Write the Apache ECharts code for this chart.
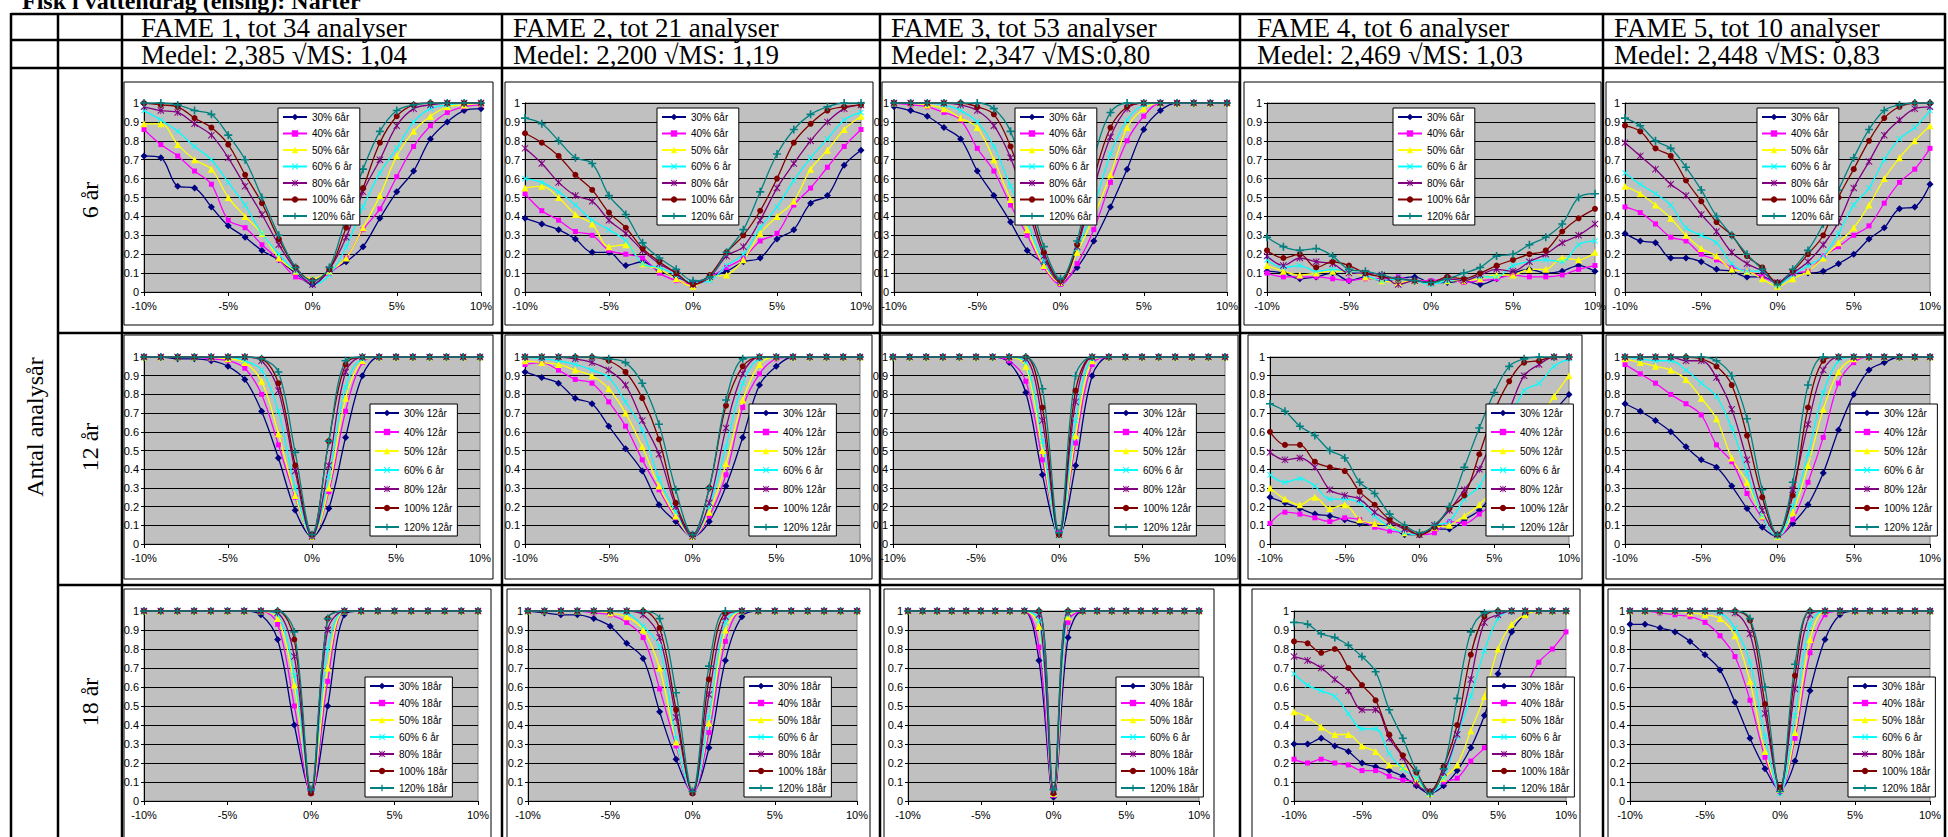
<!DOCTYPE html>
<html>
<head>
<meta charset="utf-8">
<title>FAME analyser</title>
<script src="https://cdn.jsdelivr.net/npm/echarts@6.0.0/dist/echarts.min.js"></script>
<style>
html, body { margin: 0; padding: 0; background: #fff; }
#main { width: 1948px; height: 837px; }
</style>
</head>
<body>
<div id="main"></div>
<script>
// x-värden (avvikelse i %)
var xs = [-10, -9, -8, -7, -6, -5, -4, -3, -2, -1, 0, 1, 2, 3, 4, 5, 6, 7, 8, 9, 10];

var fameTitles = ['FAME 1, tot 34 analyser', 'FAME 2, tot 21 analyser', 'FAME 3, tot 53 analyser', 'FAME 4, tot 6 analyser', 'FAME 5, tot 10 analyser'];
var fameStats = ['Medel: 2,385 \u221AMS: 1,04', 'Medel: 2,200 \u221AMS: 1,19', 'Medel: 2,347 \u221AMS:0,80', 'Medel: 2,469 \u221AMS: 1,03', 'Medel: 2,448 \u221AMS: 0,83'];
var rowLabels = ['6 år', '12 år', '18 år'];
var sideLabel = 'Antal analysår';
var pageTitle = 'Fisk i vattendrag (enslig): Narter';

var legend6 = ['30% 6år', '40% 6år', '50% 6år', '60% 6 år', '80% 6år', '100% 6år', '120% 6år'];
var legend12 = ['30% 12år', '40% 12år', '50% 12år', '60% 6 år', '80% 12år', '100% 12år', '120% 12år'];
var legend18 = ['30% 18år', '40% 18år', '50% 18år', '60% 6 år', '80% 18år', '100% 18år', '120% 18år'];

// serier: 30%, 40%, 50%, 60%, 80%, 100%, 120%
var fame1_6 = [
  [0.72, 0.71, 0.56, 0.55, 0.45, 0.35, 0.29, 0.22, 0.17, 0.10, 0.04, 0.11, 0.16, 0.24, 0.39, 0.53, 0.64, 0.81, 0.90, 0.96, 0.97],
  [0.86, 0.78, 0.72, 0.64, 0.57, 0.38, 0.34, 0.25, 0.17, 0.08, 0.06, 0.10, 0.18, 0.33, 0.44, 0.61, 0.77, 0.88, 0.95, 0.98, 0.99],
  [0.89, 0.89, 0.78, 0.70, 0.65, 0.50, 0.40, 0.31, 0.18, 0.11, 0.07, 0.11, 0.18, 0.34, 0.51, 0.72, 0.85, 0.93, 0.98, 0.99, 1.00],
  [0.96, 0.91, 0.85, 0.77, 0.70, 0.58, 0.46, 0.31, 0.20, 0.11, 0.04, 0.09, 0.24, 0.45, 0.63, 0.76, 0.90, 0.97, 0.99, 1.00, 1.00],
  [0.98, 0.96, 0.95, 0.89, 0.83, 0.71, 0.56, 0.41, 0.25, 0.12, 0.04, 0.12, 0.29, 0.53, 0.70, 0.88, 0.97, 0.99, 1.00, 1.00, 1.00],
  [1.00, 0.99, 0.98, 0.92, 0.87, 0.78, 0.62, 0.47, 0.28, 0.13, 0.06, 0.12, 0.34, 0.55, 0.79, 0.93, 0.99, 1.00, 1.00, 1.00, 1.00],
  [1.00, 1.00, 0.99, 0.96, 0.94, 0.83, 0.70, 0.50, 0.30, 0.13, 0.06, 0.13, 0.40, 0.65, 0.85, 0.96, 0.99, 1.00, 1.00, 1.00, 1.00]
];
var fame2_6 = [
  [0.39, 0.36, 0.33, 0.28, 0.21, 0.21, 0.14, 0.16, 0.11, 0.08, 0.05, 0.08, 0.11, 0.16, 0.18, 0.28, 0.33, 0.47, 0.51, 0.67, 0.75],
  [0.52, 0.43, 0.38, 0.32, 0.30, 0.22, 0.20, 0.18, 0.10, 0.06, 0.04, 0.08, 0.13, 0.18, 0.27, 0.31, 0.46, 0.55, 0.66, 0.77, 0.86],
  [0.55, 0.56, 0.50, 0.41, 0.36, 0.24, 0.25, 0.15, 0.12, 0.07, 0.03, 0.08, 0.09, 0.17, 0.31, 0.40, 0.48, 0.65, 0.75, 0.86, 0.93],
  [0.60, 0.58, 0.53, 0.46, 0.38, 0.33, 0.27, 0.15, 0.13, 0.09, 0.05, 0.06, 0.14, 0.20, 0.34, 0.45, 0.59, 0.71, 0.81, 0.91, 0.95],
  [0.76, 0.68, 0.58, 0.51, 0.48, 0.38, 0.31, 0.22, 0.15, 0.10, 0.04, 0.08, 0.19, 0.24, 0.38, 0.55, 0.68, 0.80, 0.90, 0.97, 0.99],
  [0.84, 0.79, 0.72, 0.62, 0.54, 0.42, 0.34, 0.23, 0.16, 0.10, 0.04, 0.09, 0.21, 0.30, 0.43, 0.60, 0.79, 0.89, 0.96, 0.98, 0.99],
  [0.92, 0.89, 0.80, 0.71, 0.68, 0.51, 0.41, 0.26, 0.18, 0.12, 0.06, 0.08, 0.21, 0.33, 0.53, 0.73, 0.86, 0.94, 0.98, 1.00, 1.00]
];
var fame3_6 = [
  [0.98, 0.96, 0.93, 0.87, 0.81, 0.64, 0.51, 0.37, 0.22, 0.15, 0.05, 0.13, 0.27, 0.45, 0.65, 0.86, 0.96, 1.00, 1.00, 1.00, 1.00],
  [1.00, 0.99, 0.98, 0.95, 0.91, 0.76, 0.64, 0.46, 0.30, 0.13, 0.04, 0.15, 0.33, 0.58, 0.80, 0.93, 1.00, 1.00, 1.00, 1.00, 1.00],
  [1.00, 1.00, 0.99, 0.97, 0.92, 0.87, 0.70, 0.49, 0.33, 0.14, 0.05, 0.21, 0.40, 0.62, 0.87, 0.97, 1.00, 1.00, 1.00, 1.00, 1.00],
  [1.00, 1.00, 1.00, 0.99, 0.96, 0.90, 0.77, 0.56, 0.37, 0.16, 0.06, 0.23, 0.45, 0.73, 0.91, 0.99, 1.00, 1.00, 1.00, 1.00, 1.00],
  [1.00, 1.00, 1.00, 1.00, 0.99, 0.96, 0.88, 0.71, 0.45, 0.19, 0.05, 0.24, 0.55, 0.82, 0.97, 1.00, 1.00, 1.00, 1.00, 1.00, 1.00],
  [1.00, 1.00, 1.00, 1.00, 1.00, 0.98, 0.94, 0.77, 0.50, 0.21, 0.06, 0.25, 0.60, 0.87, 0.98, 1.00, 1.00, 1.00, 1.00, 1.00, 1.00],
  [1.00, 1.00, 1.00, 1.00, 1.00, 1.00, 0.97, 0.85, 0.56, 0.24, 0.07, 0.27, 0.70, 0.95, 1.00, 1.00, 1.00, 1.00, 1.00, 1.00, 1.00]
];
var fame4_6 = [
  [0.11, 0.10, 0.07, 0.08, 0.10, 0.06, 0.08, 0.06, 0.07, 0.08, 0.05, 0.05, 0.06, 0.04, 0.07, 0.10, 0.12, 0.10, 0.11, 0.14, 0.11],
  [0.10, 0.08, 0.08, 0.08, 0.07, 0.06, 0.07, 0.07, 0.08, 0.06, 0.06, 0.07, 0.05, 0.06, 0.07, 0.09, 0.08, 0.08, 0.09, 0.12, 0.14],
  [0.14, 0.11, 0.09, 0.10, 0.11, 0.11, 0.08, 0.06, 0.05, 0.06, 0.05, 0.06, 0.06, 0.07, 0.09, 0.09, 0.12, 0.12, 0.18, 0.17, 0.21],
  [0.17, 0.13, 0.14, 0.11, 0.12, 0.11, 0.09, 0.06, 0.07, 0.06, 0.04, 0.06, 0.07, 0.08, 0.08, 0.14, 0.16, 0.17, 0.16, 0.25, 0.27],
  [0.19, 0.14, 0.18, 0.16, 0.15, 0.10, 0.10, 0.09, 0.04, 0.06, 0.05, 0.07, 0.06, 0.09, 0.12, 0.11, 0.16, 0.20, 0.26, 0.30, 0.36],
  [0.22, 0.18, 0.20, 0.13, 0.16, 0.14, 0.10, 0.08, 0.07, 0.06, 0.05, 0.08, 0.07, 0.10, 0.14, 0.17, 0.20, 0.22, 0.32, 0.39, 0.44],
  [0.29, 0.24, 0.22, 0.23, 0.19, 0.12, 0.11, 0.09, 0.07, 0.06, 0.05, 0.07, 0.10, 0.13, 0.19, 0.20, 0.25, 0.29, 0.36, 0.50, 0.52]
];
var fame5_6 = [
  [0.31, 0.27, 0.26, 0.18, 0.18, 0.16, 0.12, 0.11, 0.08, 0.08, 0.05, 0.10, 0.10, 0.11, 0.15, 0.20, 0.28, 0.34, 0.44, 0.45, 0.57],
  [0.45, 0.42, 0.36, 0.29, 0.27, 0.20, 0.17, 0.13, 0.11, 0.08, 0.05, 0.10, 0.11, 0.19, 0.24, 0.30, 0.35, 0.47, 0.58, 0.65, 0.76],
  [0.56, 0.52, 0.46, 0.39, 0.30, 0.23, 0.19, 0.12, 0.11, 0.07, 0.03, 0.07, 0.11, 0.18, 0.26, 0.34, 0.46, 0.60, 0.71, 0.80, 0.88],
  [0.63, 0.57, 0.52, 0.46, 0.34, 0.30, 0.26, 0.15, 0.11, 0.11, 0.04, 0.09, 0.14, 0.19, 0.31, 0.46, 0.55, 0.70, 0.81, 0.87, 0.96],
  [0.79, 0.72, 0.65, 0.57, 0.51, 0.41, 0.32, 0.21, 0.15, 0.11, 0.05, 0.10, 0.16, 0.25, 0.37, 0.55, 0.69, 0.83, 0.91, 0.97, 0.98],
  [0.88, 0.85, 0.76, 0.72, 0.59, 0.48, 0.37, 0.30, 0.19, 0.13, 0.05, 0.11, 0.20, 0.30, 0.50, 0.65, 0.80, 0.92, 0.98, 1.00, 1.00],
  [0.92, 0.88, 0.80, 0.76, 0.66, 0.54, 0.40, 0.30, 0.20, 0.12, 0.04, 0.12, 0.22, 0.36, 0.54, 0.71, 0.86, 0.96, 0.99, 1.00, 1.00]
];

var fame1_12 = [
  [1.00, 1.00, 0.99, 0.99, 0.98, 0.95, 0.88, 0.71, 0.46, 0.18, 0.04, 0.19, 0.57, 0.90, 1.00, 1.00, 1.00, 1.00, 1.00, 1.00, 1.00],
  [1.00, 1.00, 1.00, 1.00, 0.99, 0.98, 0.94, 0.80, 0.53, 0.25, 0.04, 0.28, 0.71, 0.97, 1.00, 1.00, 1.00, 1.00, 1.00, 1.00, 1.00],
  [1.00, 1.00, 1.00, 1.00, 1.00, 0.99, 0.97, 0.87, 0.59, 0.26, 0.04, 0.30, 0.78, 0.98, 1.00, 1.00, 1.00, 1.00, 1.00, 1.00, 1.00],
  [1.00, 1.00, 1.00, 1.00, 1.00, 1.00, 0.98, 0.93, 0.71, 0.30, 0.04, 0.36, 0.84, 0.99, 1.00, 1.00, 1.00, 1.00, 1.00, 1.00, 1.00],
  [1.00, 1.00, 1.00, 1.00, 1.00, 1.00, 1.00, 0.98, 0.82, 0.39, 0.04, 0.42, 0.92, 1.00, 1.00, 1.00, 1.00, 1.00, 1.00, 1.00, 1.00],
  [1.00, 1.00, 1.00, 1.00, 1.00, 1.00, 1.00, 0.99, 0.86, 0.42, 0.05, 0.55, 0.96, 1.00, 1.00, 1.00, 1.00, 1.00, 1.00, 1.00, 1.00],
  [1.00, 1.00, 1.00, 1.00, 1.00, 1.00, 1.00, 0.99, 0.92, 0.49, 0.05, 0.55, 0.98, 1.00, 1.00, 1.00, 1.00, 1.00, 1.00, 1.00, 1.00]
];
var fame2_12 = [
  [0.92, 0.89, 0.86, 0.78, 0.75, 0.63, 0.51, 0.39, 0.21, 0.12, 0.04, 0.12, 0.31, 0.57, 0.85, 0.95, 1.00, 1.00, 1.00, 1.00, 1.00],
  [0.96, 0.97, 0.93, 0.88, 0.86, 0.76, 0.63, 0.45, 0.29, 0.14, 0.04, 0.15, 0.37, 0.73, 0.91, 0.99, 1.00, 1.00, 1.00, 1.00, 1.00],
  [0.98, 0.97, 0.96, 0.93, 0.90, 0.83, 0.70, 0.52, 0.31, 0.15, 0.04, 0.17, 0.43, 0.77, 0.96, 1.00, 1.00, 1.00, 1.00, 1.00, 1.00],
  [1.00, 0.99, 0.98, 0.96, 0.93, 0.89, 0.76, 0.61, 0.35, 0.17, 0.04, 0.20, 0.52, 0.86, 0.99, 1.00, 1.00, 1.00, 1.00, 1.00, 1.00],
  [1.00, 1.00, 1.00, 0.99, 0.97, 0.93, 0.85, 0.66, 0.48, 0.20, 0.04, 0.22, 0.62, 0.91, 1.00, 1.00, 1.00, 1.00, 1.00, 1.00, 1.00],
  [1.00, 1.00, 1.00, 1.00, 1.00, 0.98, 0.92, 0.78, 0.56, 0.22, 0.05, 0.30, 0.74, 0.95, 1.00, 1.00, 1.00, 1.00, 1.00, 1.00, 1.00],
  [1.00, 1.00, 1.00, 1.00, 1.00, 0.99, 0.97, 0.86, 0.64, 0.29, 0.05, 0.30, 0.77, 0.99, 1.00, 1.00, 1.00, 1.00, 1.00, 1.00, 1.00]
];
var fame3_12 = [
  [1.00, 1.00, 1.00, 1.00, 1.00, 1.00, 1.00, 0.97, 0.81, 0.37, 0.05, 0.42, 0.90, 1.00, 1.00, 1.00, 1.00, 1.00, 1.00, 1.00, 1.00],
  [1.00, 1.00, 1.00, 1.00, 1.00, 1.00, 1.00, 0.98, 0.87, 0.45, 0.06, 0.54, 0.96, 1.00, 1.00, 1.00, 1.00, 1.00, 1.00, 1.00, 1.00],
  [1.00, 1.00, 1.00, 1.00, 1.00, 1.00, 1.00, 1.00, 0.95, 0.50, 0.05, 0.58, 0.98, 1.00, 1.00, 1.00, 1.00, 1.00, 1.00, 1.00, 1.00],
  [1.00, 1.00, 1.00, 1.00, 1.00, 1.00, 1.00, 1.00, 0.97, 0.55, 0.04, 0.66, 0.99, 1.00, 1.00, 1.00, 1.00, 1.00, 1.00, 1.00, 1.00],
  [1.00, 1.00, 1.00, 1.00, 1.00, 1.00, 1.00, 1.00, 0.99, 0.66, 0.05, 0.76, 1.00, 1.00, 1.00, 1.00, 1.00, 1.00, 1.00, 1.00, 1.00],
  [1.00, 1.00, 1.00, 1.00, 1.00, 1.00, 1.00, 1.00, 1.00, 0.73, 0.05, 0.82, 1.00, 1.00, 1.00, 1.00, 1.00, 1.00, 1.00, 1.00, 1.00],
  [1.00, 1.00, 1.00, 1.00, 1.00, 1.00, 1.00, 1.00, 1.00, 0.83, 0.06, 0.90, 1.00, 1.00, 1.00, 1.00, 1.00, 1.00, 1.00, 1.00, 1.00]
];
var fame4_12 = [
  [0.25, 0.22, 0.19, 0.16, 0.15, 0.13, 0.11, 0.10, 0.10, 0.05, 0.05, 0.08, 0.08, 0.13, 0.18, 0.28, 0.40, 0.52, 0.62, 0.71, 0.80],
  [0.11, 0.17, 0.16, 0.14, 0.12, 0.14, 0.13, 0.09, 0.07, 0.06, 0.05, 0.06, 0.12, 0.11, 0.16, 0.22, 0.28, 0.34, 0.39, 0.44, 0.48],
  [0.30, 0.24, 0.21, 0.25, 0.19, 0.21, 0.13, 0.11, 0.10, 0.06, 0.06, 0.09, 0.10, 0.15, 0.21, 0.30, 0.42, 0.55, 0.67, 0.79, 0.90],
  [0.37, 0.33, 0.35, 0.31, 0.24, 0.24, 0.22, 0.15, 0.09, 0.06, 0.05, 0.10, 0.12, 0.24, 0.31, 0.48, 0.65, 0.82, 0.86, 0.95, 0.99],
  [0.49, 0.45, 0.46, 0.41, 0.29, 0.26, 0.24, 0.17, 0.12, 0.08, 0.05, 0.10, 0.18, 0.29, 0.40, 0.58, 0.72, 0.90, 0.96, 1.00, 1.00],
  [0.60, 0.53, 0.53, 0.44, 0.41, 0.39, 0.28, 0.21, 0.13, 0.09, 0.05, 0.09, 0.19, 0.26, 0.48, 0.71, 0.87, 0.97, 0.98, 1.00, 1.00],
  [0.75, 0.71, 0.63, 0.58, 0.50, 0.46, 0.33, 0.27, 0.16, 0.10, 0.06, 0.10, 0.20, 0.41, 0.62, 0.81, 0.95, 0.99, 1.00, 1.00, 1.00]
];
var fame5_12 = [
  [0.75, 0.71, 0.66, 0.60, 0.52, 0.45, 0.41, 0.31, 0.19, 0.09, 0.04, 0.11, 0.21, 0.38, 0.61, 0.80, 0.93, 0.97, 1.00, 1.00, 1.00],
  [0.96, 0.91, 0.86, 0.80, 0.75, 0.69, 0.53, 0.44, 0.27, 0.14, 0.04, 0.13, 0.33, 0.57, 0.86, 0.97, 1.00, 1.00, 1.00, 1.00, 1.00],
  [0.99, 0.97, 0.95, 0.93, 0.88, 0.78, 0.67, 0.46, 0.33, 0.15, 0.04, 0.17, 0.42, 0.72, 0.92, 0.99, 1.00, 1.00, 1.00, 1.00, 1.00],
  [1.00, 0.99, 0.98, 0.98, 0.93, 0.86, 0.79, 0.62, 0.38, 0.15, 0.04, 0.20, 0.48, 0.81, 0.98, 1.00, 1.00, 1.00, 1.00, 1.00, 1.00],
  [1.00, 1.00, 1.00, 1.00, 0.98, 0.98, 0.89, 0.72, 0.45, 0.18, 0.05, 0.29, 0.64, 0.93, 1.00, 1.00, 1.00, 1.00, 1.00, 1.00, 1.00],
  [1.00, 1.00, 1.00, 1.00, 1.00, 0.99, 0.95, 0.85, 0.58, 0.25, 0.05, 0.26, 0.73, 0.98, 1.00, 1.00, 1.00, 1.00, 1.00, 1.00, 1.00],
  [1.00, 1.00, 1.00, 1.00, 1.00, 1.00, 0.98, 0.90, 0.67, 0.29, 0.05, 0.33, 0.85, 1.00, 1.00, 1.00, 1.00, 1.00, 1.00, 1.00, 1.00]
];

var fame1_18 = [
  [1.00, 1.00, 1.00, 1.00, 1.00, 1.00, 1.00, 0.98, 0.85, 0.40, 0.05, 0.50, 0.98, 1.00, 1.00, 1.00, 1.00, 1.00, 1.00, 1.00, 1.00],
  [1.00, 1.00, 1.00, 1.00, 1.00, 1.00, 1.00, 1.00, 0.93, 0.50, 0.04, 0.63, 1.00, 1.00, 1.00, 1.00, 1.00, 1.00, 1.00, 1.00, 1.00],
  [1.00, 1.00, 1.00, 1.00, 1.00, 1.00, 1.00, 1.00, 0.96, 0.61, 0.05, 0.70, 1.00, 1.00, 1.00, 1.00, 1.00, 1.00, 1.00, 1.00, 1.00],
  [1.00, 1.00, 1.00, 1.00, 1.00, 1.00, 1.00, 1.00, 0.98, 0.66, 0.05, 0.80, 1.00, 1.00, 1.00, 1.00, 1.00, 1.00, 1.00, 1.00, 1.00],
  [1.00, 1.00, 1.00, 1.00, 1.00, 1.00, 1.00, 1.00, 0.99, 0.76, 0.05, 0.90, 1.00, 1.00, 1.00, 1.00, 1.00, 1.00, 1.00, 1.00, 1.00],
  [1.00, 1.00, 1.00, 1.00, 1.00, 1.00, 1.00, 1.00, 1.00, 0.85, 0.04, 0.96, 1.00, 1.00, 1.00, 1.00, 1.00, 1.00, 1.00, 1.00, 1.00],
  [1.00, 1.00, 1.00, 1.00, 1.00, 1.00, 1.00, 1.00, 1.00, 0.89, 0.06, 0.96, 1.00, 1.00, 1.00, 1.00, 1.00, 1.00, 1.00, 1.00, 1.00]
];
var fame2_18 = [
  [1.00, 0.99, 0.98, 0.98, 0.96, 0.92, 0.83, 0.75, 0.47, 0.22, 0.05, 0.28, 0.74, 0.97, 1.00, 1.00, 1.00, 1.00, 1.00, 1.00, 1.00],
  [1.00, 1.00, 1.00, 1.00, 0.99, 0.98, 0.94, 0.86, 0.59, 0.29, 0.04, 0.36, 0.84, 1.00, 1.00, 1.00, 1.00, 1.00, 1.00, 1.00, 1.00],
  [1.00, 1.00, 1.00, 1.00, 1.00, 0.99, 0.97, 0.90, 0.70, 0.31, 0.05, 0.41, 0.90, 1.00, 1.00, 1.00, 1.00, 1.00, 1.00, 1.00, 1.00],
  [1.00, 1.00, 1.00, 1.00, 1.00, 1.00, 0.99, 0.92, 0.81, 0.33, 0.05, 0.44, 0.94, 1.00, 1.00, 1.00, 1.00, 1.00, 1.00, 1.00, 1.00],
  [1.00, 1.00, 1.00, 1.00, 1.00, 1.00, 1.00, 0.98, 0.86, 0.44, 0.05, 0.56, 0.97, 1.00, 1.00, 1.00, 1.00, 1.00, 1.00, 1.00, 1.00],
  [1.00, 1.00, 1.00, 1.00, 1.00, 1.00, 1.00, 1.00, 0.91, 0.48, 0.04, 0.64, 0.99, 1.00, 1.00, 1.00, 1.00, 1.00, 1.00, 1.00, 1.00],
  [1.00, 1.00, 1.00, 1.00, 1.00, 1.00, 1.00, 1.00, 0.96, 0.57, 0.05, 0.71, 1.00, 1.00, 1.00, 1.00, 1.00, 1.00, 1.00, 1.00, 1.00]
];
var fame3_18 = [
  [1.00, 1.00, 1.00, 1.00, 1.00, 1.00, 1.00, 1.00, 1.00, 0.74, 0.02, 0.86, 1.00, 1.00, 1.00, 1.00, 1.00, 1.00, 1.00, 1.00, 1.00],
  [1.00, 1.00, 1.00, 1.00, 1.00, 1.00, 1.00, 1.00, 1.00, 0.81, 0.03, 0.94, 1.00, 1.00, 1.00, 1.00, 1.00, 1.00, 1.00, 1.00, 1.00],
  [1.00, 1.00, 1.00, 1.00, 1.00, 1.00, 1.00, 1.00, 1.00, 0.92, 0.04, 0.97, 1.00, 1.00, 1.00, 1.00, 1.00, 1.00, 1.00, 1.00, 1.00],
  [1.00, 1.00, 1.00, 1.00, 1.00, 1.00, 1.00, 1.00, 1.00, 0.95, 0.05, 0.98, 1.00, 1.00, 1.00, 1.00, 1.00, 1.00, 1.00, 1.00, 1.00],
  [1.00, 1.00, 1.00, 1.00, 1.00, 1.00, 1.00, 1.00, 1.00, 0.98, 0.05, 0.99, 1.00, 1.00, 1.00, 1.00, 1.00, 1.00, 1.00, 1.00, 1.00],
  [1.00, 1.00, 1.00, 1.00, 1.00, 1.00, 1.00, 1.00, 1.00, 1.00, 0.04, 1.00, 1.00, 1.00, 1.00, 1.00, 1.00, 1.00, 1.00, 1.00, 1.00],
  [1.00, 1.00, 1.00, 1.00, 1.00, 1.00, 1.00, 1.00, 1.00, 1.00, 0.06, 1.00, 1.00, 1.00, 1.00, 1.00, 1.00, 1.00, 1.00, 1.00, 1.00]
];
var fame4_18 = [
  [0.30, 0.30, 0.33, 0.29, 0.26, 0.20, 0.18, 0.16, 0.13, 0.08, 0.04, 0.08, 0.16, 0.28, 0.45, 0.67, 0.89, 0.98, 1.00, 1.00, 1.00],
  [0.22, 0.20, 0.22, 0.20, 0.19, 0.16, 0.16, 0.13, 0.11, 0.10, 0.05, 0.10, 0.12, 0.21, 0.28, 0.38, 0.48, 0.60, 0.73, 0.80, 0.89],
  [0.47, 0.44, 0.39, 0.35, 0.35, 0.29, 0.26, 0.19, 0.18, 0.11, 0.04, 0.12, 0.19, 0.37, 0.55, 0.80, 0.93, 0.98, 1.00, 1.00, 1.00],
  [0.67, 0.61, 0.58, 0.55, 0.46, 0.38, 0.38, 0.25, 0.17, 0.12, 0.04, 0.12, 0.34, 0.55, 0.79, 0.96, 1.00, 1.00, 1.00, 1.00, 1.00],
  [0.76, 0.74, 0.70, 0.64, 0.58, 0.48, 0.48, 0.33, 0.23, 0.09, 0.05, 0.15, 0.35, 0.64, 0.94, 0.98, 1.00, 1.00, 1.00, 1.00, 1.00],
  [0.84, 0.83, 0.78, 0.80, 0.70, 0.61, 0.53, 0.35, 0.24, 0.15, 0.05, 0.18, 0.40, 0.77, 0.97, 1.00, 1.00, 1.00, 1.00, 1.00, 1.00],
  [0.94, 0.93, 0.88, 0.86, 0.82, 0.76, 0.68, 0.48, 0.33, 0.16, 0.04, 0.17, 0.54, 0.89, 0.99, 1.00, 1.00, 1.00, 1.00, 1.00, 1.00]
];
var fame5_18 = [
  [0.93, 0.93, 0.91, 0.89, 0.84, 0.77, 0.69, 0.52, 0.33, 0.17, 0.06, 0.21, 0.58, 0.85, 0.98, 1.00, 1.00, 1.00, 1.00, 1.00, 1.00],
  [1.00, 1.00, 0.99, 0.98, 0.97, 0.94, 0.87, 0.76, 0.53, 0.23, 0.05, 0.33, 0.78, 0.98, 1.00, 1.00, 1.00, 1.00, 1.00, 1.00, 1.00],
  [1.00, 1.00, 1.00, 1.00, 0.99, 0.98, 0.96, 0.87, 0.63, 0.26, 0.06, 0.36, 0.85, 1.00, 1.00, 1.00, 1.00, 1.00, 1.00, 1.00, 1.00],
  [1.00, 1.00, 1.00, 1.00, 1.00, 1.00, 0.99, 0.91, 0.73, 0.34, 0.04, 0.45, 0.93, 1.00, 1.00, 1.00, 1.00, 1.00, 1.00, 1.00, 1.00],
  [1.00, 1.00, 1.00, 1.00, 1.00, 1.00, 1.00, 0.99, 0.88, 0.46, 0.07, 0.59, 0.98, 1.00, 1.00, 1.00, 1.00, 1.00, 1.00, 1.00, 1.00],
  [1.00, 1.00, 1.00, 1.00, 1.00, 1.00, 1.00, 1.00, 0.95, 0.51, 0.07, 0.66, 1.00, 1.00, 1.00, 1.00, 1.00, 1.00, 1.00, 1.00, 1.00],
  [1.00, 1.00, 1.00, 1.00, 1.00, 1.00, 1.00, 1.00, 0.96, 0.60, 0.05, 0.72, 1.00, 1.00, 1.00, 1.00, 1.00, 1.00, 1.00, 1.00, 1.00]
];

var rowsData = [
  [fame1_6, fame2_6, fame3_6, fame4_6, fame5_6],
  [fame1_12, fame2_12, fame3_12, fame4_12, fame5_12],
  [fame1_18, fame2_18, fame3_18, fame4_18, fame5_18]
];
var legendRows = [legend6, legend12, legend18];

// Excel-färger och markörer
var lineColors = ['#000080', '#ff00ff', '#ffff00', '#00ffff', '#800080', '#800000', '#008080'];
var xMark = 'path://M1,0L5,4L9,0L10,1L6,5L10,9L9,10L5,6L1,10L0,9L4,5L0,1Z';
var starMark = 'path://M1,0L5,4L9,0L10,1L6,5L10,9L9,10L5,6L1,10L0,9L4,5L0,1Z M4.4,0L5.6,0L5.6,10L4.4,10Z';
var plusMark = 'path://M4,0L6,0L6,4L10,4L10,6L6,6L6,10L4,10L4,6L0,6L0,4L4,4Z';
var lineSymbols = ['diamond', 'rect', 'triangle', xMark, starMark, 'circle', plusMark];
var symbolSizes = [7, 5, 7, 6, 7, 6, 8];

// layout (px)
var colLines = [11, 58, 122, 502, 880, 1240, 1603, 1945];
var rowLines = [14, 40, 68, 333, 585];
var headX = [141, 513, 891, 1257, 1614];
var plotTop = [103, 357, 611];
var plotBottom = [292, 544, 801];
var plotX = [
  [[144, 481], [525, 861], [894, 1227], [1267, 1595], [1625, 1930]],
  [[144, 480], [525, 860], [893, 1225], [1270, 1569], [1625, 1930]],
  [[144, 478], [528, 857], [908, 1199], [1294, 1566], [1630, 1930]]
];
var boxX = [
  [[124, 493], [505, 873], [882, 1239], [1244, 1601], [1606, 1945]],
  [[124, 493], [505, 872], [882, 1238], [1248, 1582], [1606, 1945]],
  [[124, 491], [507, 870], [884, 1214], [1252, 1580], [1608, 1945]]
];
var boxY = [[82, 325], [335, 579], [589, 850]];
var legendPos = [
  [[278, 108], [657, 108], [1015, 108], [1393, 108], [1757, 108]],
  [[370, 404], [749, 404], [1109, 404], [1486, 404], [1850, 404]],
  [[365, 677], [744, 677], [1116, 677], [1487, 677], [1848, 677]]
];
var legendGap = [6.5, 9, 7];

var sansFont = '"Liberation Sans", Arial, sans-serif';
var serifFont = '"Liberation Serif", "Times New Roman", serif';

var grids = [], xAxes = [], yAxes = [], legends = [], series = [], graphics = [];

for (var r = 0; r < 3; r++) {
  for (var c = 0; c < 5; c++) {
    var g = r * 5 + c;
    var px = plotX[r][c];
    var bx = boxX[r][c];
    grids.push({
      left: px[0], top: plotTop[r], width: px[1] - px[0], height: plotBottom[r] - plotTop[r],
      show: true, backgroundColor: '#c0c0c0', borderColor: '#808080', borderWidth: 1,
      containLabel: false, outerBoundsMode: 'none'
    });
    xAxes.push({
      type: 'value', gridIndex: g, min: -10, max: 10, interval: 5,
      axisLine: { show: true, onZero: false, lineStyle: { color: '#000', width: 1 } },
      axisTick: { show: true, length: 4, lineStyle: { color: '#000' } },
      axisLabel: { formatter: '{value}%', color: '#000', fontSize: 11, fontFamily: sansFont, margin: 8 },
      splitLine: { show: false }
    });
    yAxes.push({
      type: 'value', gridIndex: g, min: 0, max: 1, interval: 0.1,
      axisLine: { show: true, onZero: false, lineStyle: { color: '#000', width: 1 } },
      axisTick: { show: true, length: 3, lineStyle: { color: '#000' } },
      axisLabel: { color: '#000', fontSize: 11, fontFamily: sansFont, margin: 5 },
      splitLine: { show: true, lineStyle: { color: '#000', width: 1 } }
    });
    legends.push({
      left: legendPos[r][c][0], top: legendPos[r][c][1], orient: 'vertical',
      data: legendRows[r], selectedMode: false,
      backgroundColor: '#fff', borderColor: '#000', borderWidth: 1, borderRadius: 0,
      padding: [4, 5, 4, 4], itemGap: legendGap[r], itemWidth: 24, itemHeight: 8,
      textStyle: { fontFamily: sansFont, fontSize: 10, color: '#000' }
    });
    rowsData[r][c].forEach(function (vals, k) {
      series.push({
        type: 'line', name: legendRows[r][k], xAxisIndex: g, yAxisIndex: g,
        data: vals.map(function (v, i) { return [xs[i], v]; }),
        smooth: 0.35, symbol: lineSymbols[k], symbolSize: symbolSizes[k], showSymbol: true,
        itemStyle: { color: lineColors[k], borderWidth: 0 },
        lineStyle: { color: lineColors[k], width: 1.3 },
        emphasis: { disabled: true }, silent: true, animation: false
      });
    });
    // vit diagramruta
    graphics.push({
      type: 'rect', z: -1,
      shape: { x: bx[0], y: boxY[r][0], width: bx[1] - bx[0], height: boxY[r][1] - boxY[r][0] },
      style: { fill: '#fff', stroke: '#000', lineWidth: 1 }
    });
  }
}

// tabellinjer
function hLine(y, x1, x2) {
  graphics.push({ type: 'line', z: 5, shape: { x1: x1, y1: y, x2: x2, y2: y }, style: { stroke: '#000', lineWidth: 2.5 } });
}
function vLine(x, y1, y2) {
  graphics.push({ type: 'line', z: 5, shape: { x1: x, y1: y1, x2: x, y2: y2 }, style: { stroke: '#000', lineWidth: 2.5 } });
}
hLine(rowLines[0], colLines[0], colLines[7]);
hLine(rowLines[1], colLines[0], colLines[7]);
hLine(rowLines[2], colLines[0], colLines[7]);
hLine(rowLines[3], colLines[1], colLines[7]);
hLine(rowLines[4], colLines[1], colLines[7]);
colLines.forEach(function (x) { vLine(x, rowLines[0] - 1, 840); });

// texter
graphics.push({
  type: 'text', x: 22, y: 13,
  style: { text: pageTitle, font: 'bold 24px ' + serifFont, fill: '#000', textAlign: 'left', textVerticalAlign: 'bottom' }
});
fameTitles.forEach(function (t, i) {
  graphics.push({ type: 'text', x: headX[i], y: 27.5,
    style: { text: t, font: '27px ' + serifFont, fill: '#000', textAlign: 'left', textVerticalAlign: 'middle' } });
  graphics.push({ type: 'text', x: headX[i], y: 54.5,
    style: { text: fameStats[i], font: '27px ' + serifFont, fill: '#000', textAlign: 'left', textVerticalAlign: 'middle' } });
});
var rowLabelY = [200, 447, 702];
rowLabels.forEach(function (t, i) {
  graphics.push({ type: 'text', x: 90, y: rowLabelY[i], rotation: Math.PI / 2,
    style: { text: t, font: '24px ' + serifFont, fill: '#000', textAlign: 'center', textVerticalAlign: 'middle' } });
});
graphics.push({ type: 'text', x: 35, y: 427, rotation: Math.PI / 2,
  style: { text: sideLabel, font: '24px ' + serifFont, fill: '#000', textAlign: 'center', textVerticalAlign: 'middle' } });

var chart = echarts.init(document.getElementById('main'), null, { renderer: 'svg' });
chart.setOption({
  animation: false,
  backgroundColor: '#fff',
  grid: grids,
  xAxis: xAxes,
  yAxis: yAxes,
  legend: legends,
  series: series,
  graphic: { elements: graphics }
});
</script>
</body>
</html>
